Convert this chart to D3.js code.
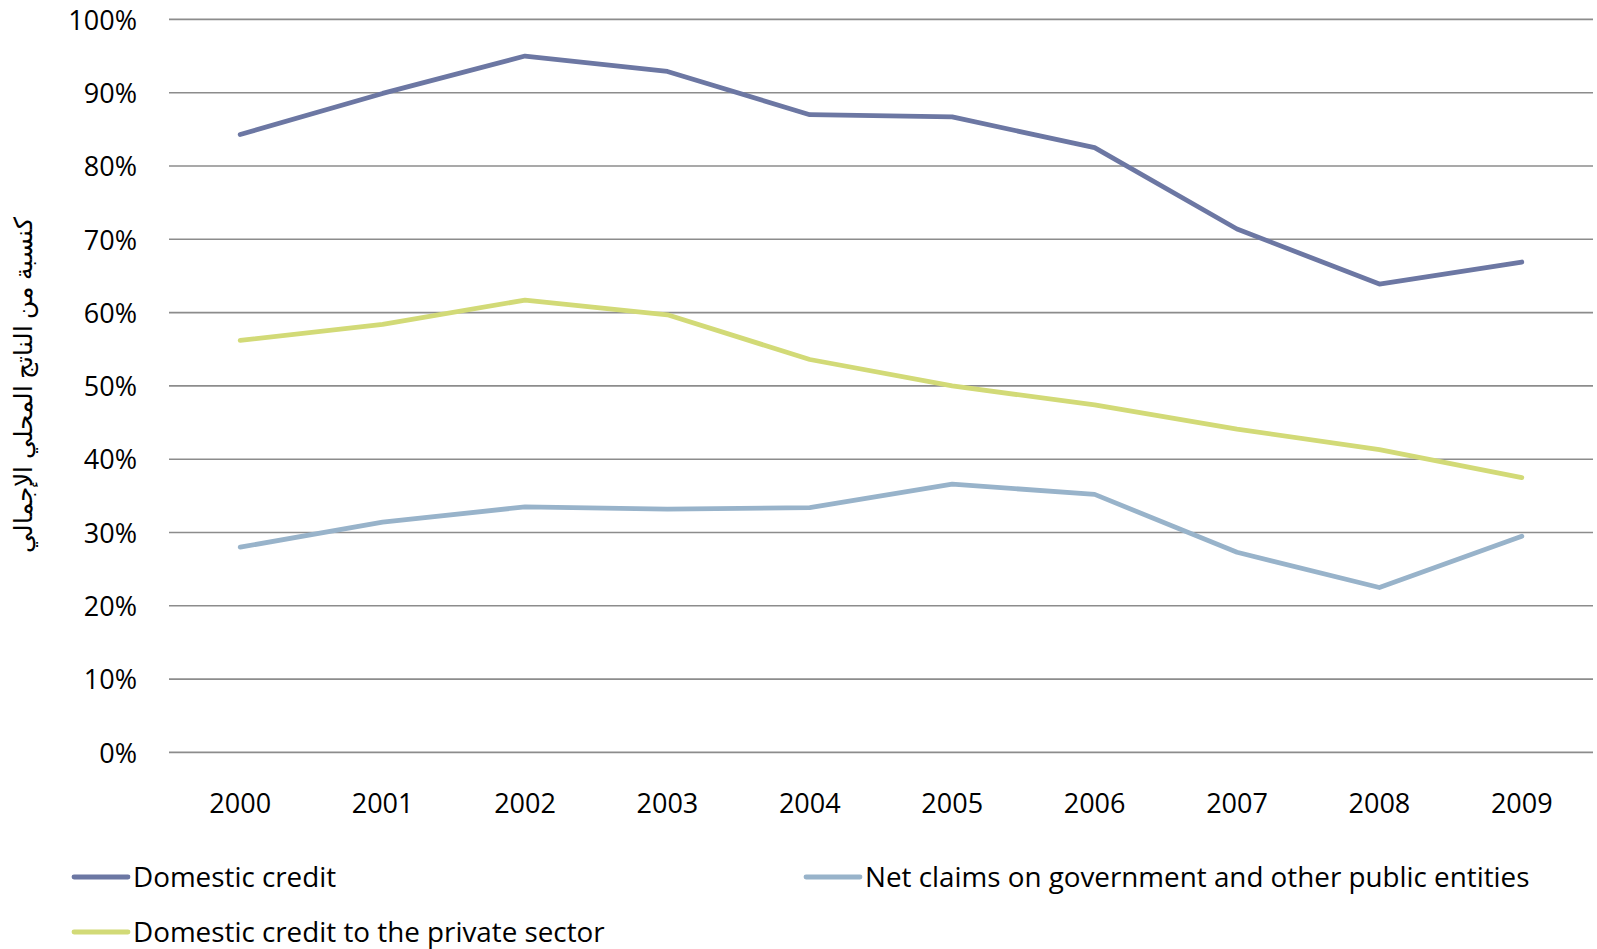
<!DOCTYPE html>
<html>
<head>
<meta charset="utf-8">
<script src="https://cdn.jsdelivr.net/npm/d3@7"></script>
<style>
  html, body { margin: 0; padding: 0; background: #fff; }
  svg { display: block; }
  text { font-family: "Open Sans", Lato, sans-serif; fill: #000; }
</style>
</head>
<body>
<svg id="chart" width="1597" height="949"></svg>
<script>
// Years on the category axis
const years = ["2000","2001","2002","2003","2004","2005","2006","2007","2008","2009"];

// Series values, percent of GDP
const domesticCredit = [84.3, 89.9, 95.0, 92.9, 87.0, 86.7, 82.5, 71.4, 63.9, 66.9];
const netClaims      = [28.0, 31.4, 33.5, 33.2, 33.4, 36.6, 35.2, 27.3, 22.5, 29.5];
const privateCredit  = [56.2, 58.4, 61.7, 59.7, 53.6, 50.0, 47.4, 44.1, 41.3, 37.5];

const seriesNames = [
  "Domestic credit",
  "Net claims on government and other public entities",
  "Domestic credit to the private sector"
];
const seriesColors = ["#6C77A3", "#98B3CA", "#D2DA77"];

const yTicks = [0, 10, 20, 30, 40, 50, 60, 70, 80, 90, 100];
const yTitle = "كنسبة من الناتج المحلي الإجمالي";

const series = [domesticCredit, netClaims, privateCredit].map((values, i) => ({
  name: seriesNames[i],
  color: seriesColors[i],
  values
}));

const FONT = "'Open Sans', Lato, sans-serif";
const svg = d3.select("#chart");
const plot = { left: 169, right: 1593, top: 19.4, bottom: 752.4 };

const x = d3.scaleBand().domain(years).range([plot.left, plot.right]);
const y = d3.scaleLinear().domain([0, 100]).range([plot.bottom, plot.top]);

// Horizontal gridlines
svg.append("g")
  .selectAll("line")
  .data(yTicks)
  .join("line")
  .attr("x1", plot.left)
  .attr("x2", plot.right)
  .attr("y1", d => y(d))
  .attr("y2", d => y(d))
  .attr("stroke", "#8c8c8c")
  .attr("stroke-width", 1.6);

// Value axis labels
const yAxis = d3.axisLeft(y).tickValues(yTicks).tickFormat(d => d + "%").tickSize(0).tickPadding(0);
const yg = svg.append("g").attr("transform", `translate(137,0)`).call(yAxis);
yg.select(".domain").remove();
yg.selectAll("text")
  .attr("font-family", FONT)
  .attr("font-size", 27)
  .attr("dy", "0.36em")
  .attr("fill", "#000");

// Category axis labels
const xAxis = d3.axisBottom(x).tickSize(0).tickPadding(0);
const xg = svg.append("g").attr("transform", `translate(0,${plot.bottom})`).call(xAxis);
xg.select(".domain").remove();
xg.selectAll("text")
  .attr("font-family", FONT)
  .attr("font-size", 27)
  .attr("y", 61)
  .attr("dy", 0)
  .attr("fill", "#000");

// Axis title (rotated)
svg.append("text")
  .attr("transform", `translate(22,385) rotate(-90)`)
  .attr("text-anchor", "middle")
  .attr("dominant-baseline", "central")
  .attr("font-family", "'DejaVu Sans', sans-serif")
  .attr("font-size", 24.5)
  .attr("direction", "rtl")
  .text(yTitle);

// Series lines
const line = d3.line()
  .x((d, i) => x(years[i]) + x.bandwidth() / 2)
  .y(d => y(d));

svg.append("g")
  .selectAll("path")
  .data(series)
  .join("path")
  .attr("d", d => line(d.values))
  .attr("fill", "none")
  .attr("stroke", d => d.color)
  .attr("stroke-width", 4.8)
  .attr("stroke-linecap", "round")
  .attr("stroke-linejoin", "round");

// Legend
const legendPos = [
  { x: 74, y: 877 },
  { x: 806, y: 877 },
  { x: 74, y: 932 }
];
const legend = svg.append("g")
  .selectAll("g")
  .data(series)
  .join("g")
  .attr("transform", (d, i) => `translate(${legendPos[i].x},${legendPos[i].y})`);

legend.append("line")
  .attr("x1", 0).attr("x2", 54)
  .attr("y1", 0).attr("y2", 0)
  .attr("stroke", d => d.color)
  .attr("stroke-width", 4.8)
  .attr("stroke-linecap", "round");

legend.append("text")
  .attr("x", 59)
  .attr("y", 9.9)
  .attr("font-family", FONT)
  .attr("font-size", 27.8)
  .text(d => d.name);
</script>
</body>
</html>
